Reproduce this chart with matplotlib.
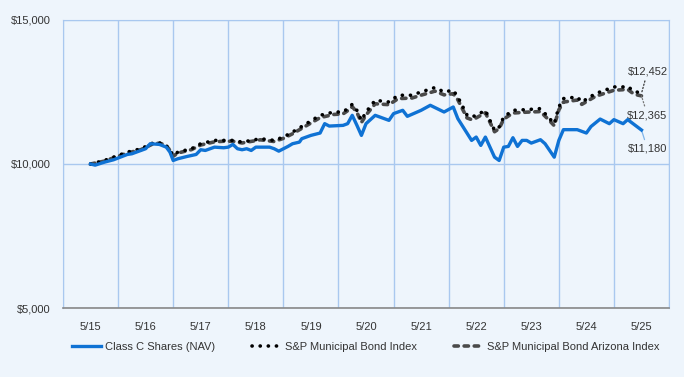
import matplotlib.pyplot as plt

plt.rcParams['font.family'] = ['Liberation Sans', 'DejaVu Sans']

# months since 5/15 and account values
fund_m = [0, 1, 3, 5, 8, 9, 12, 13, 15, 16.5, 17.3, 18, 19, 21, 23, 24, 25, 27, 29, 30,
          31, 32, 33, 34, 35, 36, 39, 40, 41, 43, 44, 45.5, 46, 48, 50, 51, 52, 55, 56, 57,
          58, 59, 60, 62, 65, 66, 68, 69, 72, 74, 77, 79, 80, 83, 84, 85, 86, 88, 89, 90,
          91, 92, 93, 94, 95, 96, 98, 99, 101, 102, 103, 106, 108, 109, 111, 113, 114, 116,
          117, 118, 119, 120]
fund_v = [10000, 9960, 10063, 10146, 10331, 10355, 10530, 10704, 10680, 10585, 10411, 10122,
          10181, 10261, 10331, 10495, 10470, 10585, 10564, 10585, 10680, 10530, 10495, 10530,
          10470, 10585, 10585, 10530, 10446, 10610, 10704, 10760, 10878, 10993, 11075, 11400,
          11317, 11341, 11400, 11690, 11350, 10993, 11400, 11690, 11515, 11749, 11864, 11655,
          11864, 12038, 11805, 11979, 11575, 10819, 10935, 10645, 10935, 10237, 10122, 10585,
          10610, 10913, 10610, 10819, 10819, 10726, 10843, 10704, 10237, 10819, 11192, 11192,
          11075, 11300, 11560, 11400, 11540, 11400, 11540, 11420, 11300, 11180]

muni_m = [0, 3, 8, 11, 14, 16, 17, 18, 19, 22, 24, 27, 29, 31, 33, 37, 40, 42, 44, 47,
          50, 53, 55, 56, 57, 58, 59, 60, 62, 65, 67, 70, 72, 74, 75, 77, 79, 80, 82, 83,
          84, 86, 87, 88, 89, 90, 92, 95, 98, 100, 101, 102, 103, 106, 107, 110, 114, 116,
          117, 118, 119, 120]
muni_v = [10000, 10122, 10411, 10530, 10760, 10704, 10560, 10296, 10411, 10530, 10704, 10819,
          10819, 10819, 10760, 10878, 10819, 10935, 11108, 11400, 11690, 11805, 11805, 11923,
          12073, 11864, 11515, 11805, 12212, 12153, 12387, 12387, 12502, 12600, 12655, 12502,
          12561, 12327, 11700, 11631, 11690, 11864, 11515, 11167, 11283, 11631, 11864, 11888,
          11923, 11575, 11400, 11979, 12271, 12327, 12153, 12446, 12676, 12676, 12700, 12561,
          12500, 12452]

az_v = [10000, 10100, 10380, 10500, 10730, 10690, 10540, 10270, 10380, 10500, 10660, 10770,
        10790, 10790, 10730, 10840, 10780, 10890, 11050, 11330, 11610, 11720, 11740, 11850,
        11990, 11800, 11440, 11700, 12090, 12060, 12270, 12290, 12390, 12480, 12530, 12400,
        12440, 12230, 11600, 11540, 11600, 11780, 11450, 11120, 11230, 11560, 11770, 11800,
        11820, 11500, 11330, 11880, 12150, 12220, 12070, 12350, 12560, 12580, 12590, 12470,
        12400, 12365]

tick_m = [0, 12, 24, 36, 48, 60, 72, 84, 96, 108, 120]
tick_labels = ['5/15', '5/16', '5/17', '5/18', '5/19', '5/20', '5/21', '5/22', '5/23', '5/24', '5/25']

bg = '#eef5fc'
grid = '#a9c8ef'
blue = '#0f72d4'

fig = plt.figure(figsize=(6.84, 3.77), dpi=100, facecolor=bg)
ax = fig.add_axes([0.0921, 0.183, 0.886, 0.764], facecolor=bg)

ax.plot(muni_m, az_v, color='#4a4a4a', lw=2.6, linestyle=(0, (1.2, 1.6)),
        dash_capstyle='round', label='S&P Municipal Bond Arizona Index', zorder=3)
ax.plot(muni_m, muni_v, color='black', lw=2.6, linestyle=(0, (0.05, 2.2)),
        dash_capstyle='round', label='S&P Municipal Bond Index', zorder=4)
ax.plot(fund_m, fund_v, color=blue, lw=2.4, label='Class C Shares (NAV)', zorder=5)

ax.set_xlim(-6, 126)
ax.set_ylim(5000, 15000)
ax.set_xticks(tick_m)
ax.set_xticklabels(tick_labels, fontsize=8, color='#333333')
ax.set_xticks([t - 6 for t in tick_m] + [126], minor=True)
ax.set_yticks([5000, 10000, 15000])
ax.set_yticklabels(['$5,000', '$10,000', '$15,000'], fontsize=8, color='#333333')
ax.tick_params(which='both', length=0)
ax.tick_params(axis='x', pad=10)
ax.tick_params(axis='y', pad=9)
ax.grid(True, which='minor', axis='x', color=grid, lw=1)
ax.grid(True, which='major', axis='y', color=grid, lw=1)
for s in ['left', 'top', 'right']:
    ax.spines[s].set_color(grid)
ax.spines['bottom'].set_color('#888888')
ax.spines['bottom'].set_linewidth(1.2)

# end labels with leader lines
ax.annotate('$12,452', xy=(120, muni_v[-1]), xytext=(121.3, 13200), fontsize=8,
            color='#333333', ha='center', va='center', annotation_clip=False,
            arrowprops=dict(arrowstyle='-', color='#333333', lw=0.9, linestyle=':',
                            shrinkA=1, shrinkB=0))
ax.annotate('$12,365', xy=(120, az_v[-1]), xytext=(121.3, 11700), fontsize=8,
            color='#333333', ha='center', va='center', annotation_clip=False,
            arrowprops=dict(arrowstyle='-', color='#777777', lw=0.9, linestyle=':',
                            shrinkA=1, shrinkB=0))
ax.annotate('$11,180', xy=(120, fund_v[-1]), xytext=(121.3, 10530), fontsize=8,
            color='#333333', ha='center', va='center', annotation_clip=False,
            arrowprops=dict(arrowstyle='-', color='#7fb5ea', lw=0.9,
                            shrinkA=1, shrinkB=0))

h, l = ax.get_legend_handles_labels()
fig.legend(h[::-1], l[::-1], loc='center', bbox_to_anchor=(0.535, 0.08), ncol=3,
           frameon=False, fontsize=8, handlelength=2.6, handletextpad=0.4,
           columnspacing=3.3, labelcolor='#333333')

fig.savefig('out.png', dpi=100, facecolor=bg)
